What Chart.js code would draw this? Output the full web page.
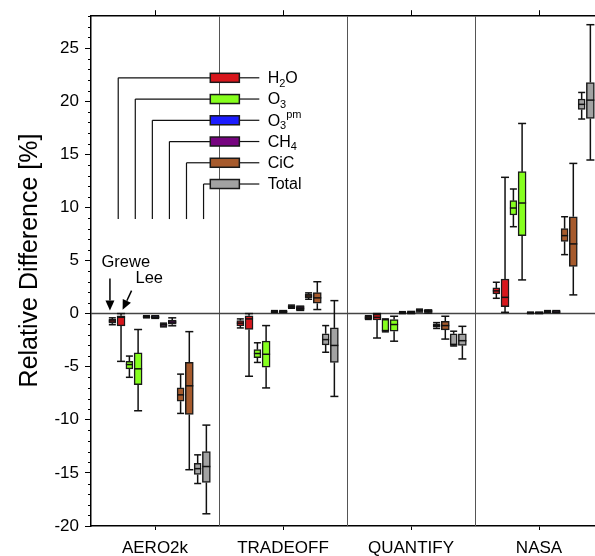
<!DOCTYPE html>
<html>
<head>
<meta charset="utf-8">
<title>Relative Difference</title>
<script src="https://cdn.jsdelivr.net/npm/chart.js@4.4.1/dist/chart.umd.min.js"></script>
<style>
  html, body { margin: 0; padding: 0; background: #fff; overflow: hidden; }
  #wrap { width: 595px; height: 556px; overflow: hidden; }
</style>
</head>
<body>
<div id="wrap"><canvas id="rfChart" width="610" height="556"></canvas></div>
<script>
// campaigns along the x axis
const groups = ['AERO2k', 'TRADEOFF', 'QUANTIFY', 'NASA'];
const species = ['H2O', 'O3', 'O3pm', 'CH4', 'CiC', 'Total'];
const speciesColors = ['#d8161c', '#86ff1e', '#1c1cff', '#76047f', '#a65a2c', '#a2a2a2'];
const yTicks = [-20, -15, -10, -5, 0, 5, 10, 15, 20, 25];
const yTitle = 'Relative Difference [%]';

// box stats per campaign: [min, q1, median, q3, max]
const greweH2O  = [[-1.05, -0.9, -0.7, -0.55, -0.4], [-1.35, -1.15, -0.9, -0.65, -0.5], [-0.55, -0.5, -0.4, -0.25, -0.2], [1.44, 1.85, 2.14, 2.42, 2.95]];
const leeH2O    = [[-4.5, -1.15, -0.35, -0.2, 0.0], [-5.9, -1.5, -0.5, -0.2, 0.0], [-2.3, -0.6, -0.35, -0.05, 0.0], [0.12, 0.66, 1.53, 3.26, 12.83]];
const greweO3   = [[-6.0, -5.2, -4.8, -4.5, -4.0], [-4.6, -4.15, -3.76, -3.4, -2.75], [-1.72, -1.66, -1.6, -0.55, -0.5], [8.18, 9.28, 9.94, 10.63, 11.73]];
const leeO3     = [[-9.15, -6.7, -5.2, -3.7, -1.5], [-7.0, -5.05, -3.83, -2.6, -1.13], [-2.6, -1.66, -1.03, -0.56, -0.25], [3.17, 7.34, 10.41, 13.36, 17.9]];
const greweO3pm = [[-0.4, -0.38, -0.3, -0.22, -0.2], [0.1, 0.12, 0.18, 0.25, 0.28], [0.0, 0.03, 0.08, 0.15, 0.18], [0.0, 0.02, 0.06, 0.12, 0.14]];
const leeO3pm   = [[-0.45, -0.42, -0.35, -0.25, -0.2], [0.1, 0.12, 0.18, 0.25, 0.28], [0.0, 0.03, 0.1, 0.17, 0.2], [0.0, 0.02, 0.06, 0.12, 0.14]];
const greweCH4  = [[-1.25, -1.2, -1.05, -0.95, -0.9], [0.5, 0.55, 0.65, 0.75, 0.8], [0.15, 0.2, 0.3, 0.38, 0.42], [0.1, 0.12, 0.18, 0.25, 0.28]];
const leeCH4    = [[-1.15, -1.0, -0.8, -0.6, -0.4], [0.3, 0.35, 0.5, 0.65, 0.7], [0.05, 0.1, 0.2, 0.3, 0.35], [0.08, 0.1, 0.15, 0.25, 0.28]];
const greweCiC  = [[-9.4, -8.25, -7.65, -7.0, -5.7], [1.35, 1.48, 1.66, 1.85, 1.95], [-1.4, -1.29, -1.13, -0.97, -0.85], [5.55, 6.8, 7.34, 8.0, 9.12]];
const leeCiC    = [[-14.7, -9.5, -6.8, -4.6, -1.7], [0.38, 0.97, 1.48, 1.97, 3.0], [-2.4, -1.53, -1.13, -0.72, -0.25], [1.76, 4.45, 6.56, 9.12, 14.14]];
const greweTotal = [[-16.0, -15.15, -14.6, -14.1, -13.3], [-3.64, -2.95, -2.45, -1.9, -1.13], [-3.05, -3.0, -2.9, -1.9, -1.66], [18.32, 19.22, 19.7, 20.2, 20.82]];
const leeTotal   = [[-18.85, -15.9, -14.4, -13.0, -10.5], [-7.8, -4.6, -3.0, -1.35, 1.22], [-4.27, -3.0, -2.55, -1.9, -1.2], [14.46, 18.37, 20.1, 21.76, 27.2]];

const greweStats = [greweH2O, greweO3, greweO3pm, greweCH4, greweCiC, greweTotal];
const leeStats = [leeH2O, leeO3, leeO3pm, leeCH4, leeCiC, leeTotal];

// legend text with sub/superscripts
const speciesLabels = [
  [['H'], ['2', 'sub'], ['O']],
  [['O'], ['3', 'sub']],
  [['O'], ['3', 'sub'], ['pm', 'sup']],
  [['CH'], ['4', 'sub']],
  [['CiC']],
  [['Total']]
];

const FONT = '"Liberation Sans", Arial, Helvetica, sans-serif';
const INK = '#111';

// position of a species inside one campaign slot
const greweOffset = i => -1 / 3 + i * 2 / 15;
const leeOffset = i => greweOffset(i) + 0.068;

function makeSet(label, stats, i, offset, thickness) {
  return {
    label: label,
    stats: stats,
    data: stats.map((s, g) => ({ x: g + offset, y: [s[1], s[3]] })),
    backgroundColor: speciesColors[i],
    borderColor: '#1a1a1a',
    borderWidth: 1.5,
    borderSkipped: false,
    barThickness: thickness,
    grouped: false
  };
}

const datasets = [];
species.forEach((s, i) => {
  datasets.push(makeSet(s + ' Grewe', greweStats[i], i, greweOffset(i), 7));
  datasets.push(makeSet(s + ' Lee', leeStats[i], i, leeOffset(i), 8));
});

function line(ctx, x0, y0, x1, y1) {
  ctx.beginPath();
  ctx.moveTo(x0, y0);
  ctx.lineTo(x1, y1);
  ctx.stroke();
}

function arrow(ctx, x0, y0, x1, y1) {
  const ang = Math.atan2(y1 - y0, x1 - x0);
  const len = 10, half = 4.5;
  const bx = x1 - len * Math.cos(ang), by = y1 - len * Math.sin(ang);
  line(ctx, x0, y0, bx, by);
  ctx.beginPath();
  ctx.moveTo(x1, y1);
  ctx.lineTo(bx + half * Math.sin(ang), by - half * Math.cos(ang));
  ctx.lineTo(bx - half * Math.sin(ang), by + half * Math.cos(ang));
  ctx.closePath();
  ctx.fill();
}

function drawRich(ctx, parts, x, y, size) {
  let cx = x;
  parts.forEach(([t, kind]) => {
    const fs = kind ? Math.round(size * 0.7) : size;
    const dy = kind === 'sub' ? size * 0.3 : kind === 'sup' ? -size * 0.38 : 0;
    ctx.font = fs + 'px ' + FONT;
    ctx.fillText(t, cx, y + dy);
    cx += ctx.measureText(t).width;
  });
}

const boxPlot = {
  id: 'boxPlot',
  beforeDatasetsDraw(chart) {
    const { ctx, chartArea: a, scales: { x, y } } = chart;
    ctx.save();
    // campaign separators
    ctx.strokeStyle = '#555';
    ctx.lineWidth = 1;
    for (let g = 0; g < groups.length - 1; g++) {
      const px = Math.round(x.getPixelForValue(g + 0.5)) + 0.5;
      line(ctx, px, a.top, px, a.bottom);
    }
    // zero line
    ctx.strokeStyle = '#444';
    ctx.lineWidth = 1.5;
    const zy = y.getPixelForValue(0);
    line(ctx, a.left, zy, a.right, zy);
    ctx.restore();
  },
  afterDatasetsDraw(chart) {
    const { ctx, chartArea: a, scales: { x, y } } = chart;
    ctx.save();
    ctx.strokeStyle = INK;
    ctx.fillStyle = INK;
    ctx.lineWidth = 1.5;

    // whiskers, caps and medians
    chart.data.datasets.forEach((ds, i) => {
      const meta = chart.getDatasetMeta(i);
      meta.data.forEach((bar, j) => {
        const [lo, q1, med, q3, hi] = ds.stats[j];
        const { x: bx, width } = bar.getProps(['x', 'width'], true);
        const h = width / 2;
        const pLo = y.getPixelForValue(lo), pQ1 = y.getPixelForValue(q1);
        const pQ3 = y.getPixelForValue(q3), pHi = y.getPixelForValue(hi);
        const pMed = y.getPixelForValue(med);
        if (pLo - pQ1 > 0.5) line(ctx, bx, pQ1, bx, pLo);
        if (pQ3 - pHi > 0.5) line(ctx, bx, pHi, bx, pQ3);
        line(ctx, bx - h, pLo, bx + h, pLo);
        line(ctx, bx - h, pHi, bx + h, pHi);
        line(ctx, bx - h, pMed, bx + h, pMed);
      });
    });

    // species key
    ctx.lineWidth = 1.2;
    ctx.textBaseline = 'middle';
    ctx.textAlign = 'left';
    const dropEnd = y.getPixelForValue(8.9);
    const boxL = x.getPixelForValue(0.432), boxR = x.getPixelForValue(0.659);
    const tailR = x.getPixelForValue(0.815), textX = x.getPixelForValue(0.88);
    species.forEach((s, i) => {
      const ry = y.getPixelForValue(22.2 - 2 * i);
      const dx = x.getPixelForValue((greweOffset(i) + leeOffset(i)) / 2 + 0.012);
      ctx.strokeStyle = INK;
      line(ctx, dx, dropEnd, dx, ry);
      line(ctx, dx, ry, boxL, ry);
      line(ctx, boxR, ry, tailR, ry);
      ctx.fillStyle = speciesColors[i];
      ctx.fillRect(boxL, ry - 4.5, boxR - boxL, 9);
      ctx.lineWidth = 1.5;
      ctx.strokeStyle = '#1a1a1a';
      ctx.strokeRect(boxL, ry - 4.5, boxR - boxL, 9);
      ctx.lineWidth = 1.2;
      ctx.fillStyle = '#000';
      drawRich(ctx, speciesLabels[i], textX, ry + 1, 16);
    });

    // Grewe / Lee pointers
    ctx.fillStyle = '#000';
    ctx.strokeStyle = '#000';
    ctx.lineWidth = 1.5;
    ctx.textAlign = 'center';
    ctx.font = '16.5px ' + FONT;
    ctx.fillText('Grewe', x.getPixelForValue(-0.228), y.getPixelForValue(4.85));
    ctx.fillText('Lee', x.getPixelForValue(-0.045), y.getPixelForValue(3.34));
    arrow(ctx, x.getPixelForValue(-0.352), y.getPixelForValue(3.3), x.getPixelForValue(-0.352), y.getPixelForValue(0.28));
    arrow(ctx, x.getPixelForValue(-0.183), y.getPixelForValue(2.16), x.getPixelForValue(-0.253), y.getPixelForValue(0.35));

    // minor ticks on the value axis
    ctx.strokeStyle = '#000';
    ctx.lineWidth = 1;
    for (let v = -19; v <= 28; v++) {
      if (v % 5 === 0) continue;
      const py = Math.round(y.getPixelForValue(v)) + 0.5;
      line(ctx, a.left - 3, py, a.left, py);
    }

    // value axis title, rotated
    ctx.translate(30, y.getPixelForValue(5.0));
    ctx.rotate(-Math.PI / 2);
    ctx.textAlign = 'center';
    ctx.textBaseline = 'middle';
    ctx.font = '25px ' + FONT;
    ctx.fillText(yTitle, 0, 0);
    ctx.restore();
  }
};

const groupTicks = axis => { axis.ticks = groups.map((g, i) => ({ value: i })); };

new Chart(document.getElementById('rfChart'), {
  type: 'bar',
  data: { datasets: datasets },
  plugins: [boxPlot],
  options: {
    responsive: false,
    animation: false,
    devicePixelRatio: 1,
    layout: { padding: { left: 0, right: 7, top: 0, bottom: 0 } },
    plugins: {
      legend: { display: false },
      tooltip: { enabled: false }
    },
    scales: {
      x: {
        type: 'linear',
        min: -0.5,
        max: 3.5,
        offset: false,
        afterBuildTicks: groupTicks,
        afterFit: s => { s.height = 30; },
        ticks: {
          callback: v => groups[v],
          font: { family: FONT, size: 17 },
          color: '#000',
          padding: 8,
          maxRotation: 0,
          autoSkip: false
        },
        grid: { offset: false, drawOnChartArea: false, tickLength: 4, color: '#000' },
        border: { color: '#000', width: 1.5 }
      },
      xTop: {
        type: 'linear',
        position: 'top',
        axis: 'x',
        min: -0.5,
        max: 3.5,
        offset: false,
        afterBuildTicks: groupTicks,
        afterFit: s => { s.height = 15; },
        ticks: { display: false },
        grid: { offset: false, drawOnChartArea: false, tickLength: 6, color: '#000' },
        border: { color: '#000', width: 1.5 }
      },
      y: {
        min: -20,
        max: 28,
        afterBuildTicks: axis => { axis.ticks = yTicks.map(v => ({ value: v })); },
        afterFit: s => { s.width = 91; },
        ticks: {
          font: { family: FONT, size: 17 },
          color: '#000',
          padding: 6
        },
        grid: { drawOnChartArea: false, tickLength: 6, color: '#000' },
        border: { color: '#000', width: 1.5 }
      }
    }
  }
});
</script>
</body>
</html>
